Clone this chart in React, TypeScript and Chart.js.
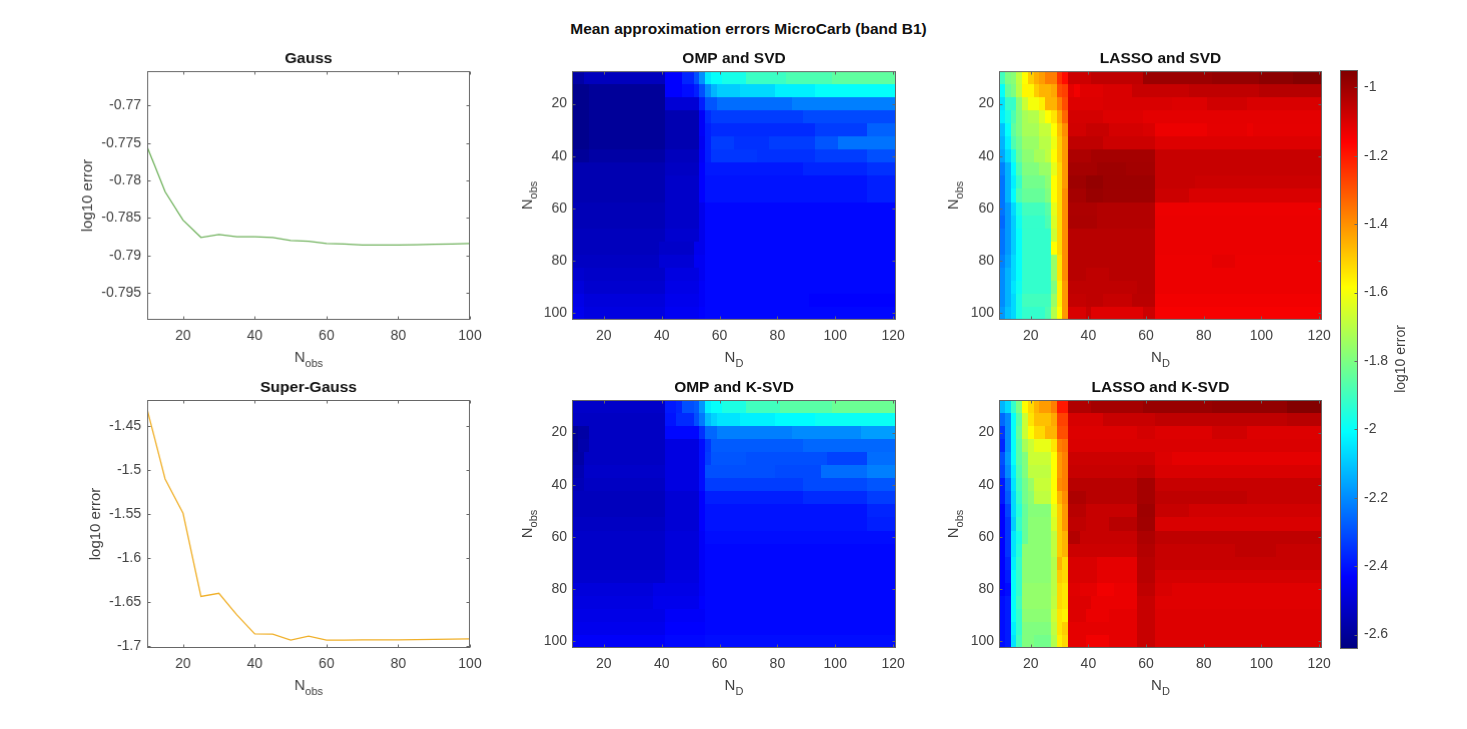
import React, { useEffect, useRef } from "react";
import Chart from "chart.js/auto";

const FONT = '"Liberation Sans", Arial, sans-serif';
const TEXT = "#404040";

const figureTitle = "Mean approximation errors MicroCarb (band B1)";
const colorbarLabel = "log10 error";
const colorMin = -2.642;
const colorMax = -0.949;
const colorTicks = [-2.6, -2.4, -2.2, -2, -1.8, -1.6, -1.4, -1.2, -1];

const lineObs = [10, 15, 20, 25, 30, 35, 40, 45, 50, 55, 60, 65, 70, 75, 80, 85, 90, 95, 100];
const gaussValues = [-0.7755, -0.7815, -0.7853, -0.7876, -0.7872, -0.7875, -0.7875, -0.7876, -0.788, -0.7881, -0.7884, -0.78847, -0.7886, -0.7886, -0.7886, -0.78857, -0.7885, -0.78847, -0.7884];
const superGaussValues = [-1.4315, -1.5103, -1.5492, -1.6434, -1.6397, -1.6642, -1.6857, -1.686, -1.6928, -1.6883, -1.6928, -1.6927, -1.6926, -1.6926, -1.6925, -1.6923, -1.692, -1.6917, -1.6913];

const dictSizes = Array.from({ length: 56 }, (_, i) => 10 + 2 * i);
const obsCounts = lineObs;

// Every row: [end column (exclusive), value, end column, value, ...].
const ompSvd = [
  [2,-2.58,16,-2.54,19,-2.43,21,-2.37,22,-2.3,23,-2.19,24,-2.04,26,-2,30,-1.97,37,-1.91,45,-1.88,56,-1.85],
  [3,-2.62,16,-2.6,19,-2.43,21,-2.41,22,-2.38,23,-2.3,24,-2.2,25,-2.13,29,-2.09,35,-2.07,42,-2.03,56,-2],
  [3,-2.62,16,-2.6,22,-2.5,23,-2.38,25,-2.29,38,-2.25,56,-2.22],
  [3,-2.62,16,-2.6,22,-2.56,23,-2.44,24,-2.36,40,-2.33,56,-2.31],
  [3,-2.62,16,-2.6,22,-2.56,23,-2.44,24,-2.38,42,-2.36,48,-2.33,51,-2.33,56,-2.27],
  [3,-2.62,16,-2.6,22,-2.56,23,-2.45,24,-2.38,28,-2.33,34,-2.35,42,-2.33,46,-2.29,56,-2.24],
  [3,-2.6,16,-2.58,22,-2.54,23,-2.44,24,-2.38,32,-2.34,42,-2.35,51,-2.33,56,-2.3],
  [16,-2.56,22,-2.53,23,-2.43,40,-2.39,51,-2.37,56,-2.35],
  [16,-2.56,22,-2.52,23,-2.43,51,-2.4,56,-2.38],
  [16,-2.56,22,-2.52,23,-2.43,51,-2.4,56,-2.38],
  [16,-2.55,22,-2.52,23,-2.46,56,-2.42],
  [16,-2.55,22,-2.52,23,-2.46,56,-2.42],
  [16,-2.54,22,-2.51,23,-2.46,56,-2.42],
  [15,-2.54,21,-2.52,23,-2.46,56,-2.42],
  [15,-2.53,21,-2.5,23,-2.45,56,-2.42],
  [2,-2.51,16,-2.52,22,-2.48,23,-2.45,56,-2.42],
  [2,-2.49,16,-2.51,22,-2.47,23,-2.44,56,-2.42],
  [2,-2.47,16,-2.49,22,-2.46,23,-2.44,41,-2.42,56,-2.43],
  [2,-2.46,16,-2.48,22,-2.45,23,-2.43,56,-2.42],
];

const ompKsvd = [
  [16,-2.52,18,-2.39,19,-2.37,21,-2.3,22,-2.28,23,-2.18,24,-2.03,26,-2,30,-1.96,36,-1.9,45,-1.86,56,-1.83],
  [16,-2.53,18,-2.4,21,-2.36,22,-2.3,23,-2.23,24,-2.12,25,-2.08,29,-2.05,35,-2.03,42,-2.01,56,-1.99],
  [1,-2.6,3,-2.58,16,-2.53,22,-2.42,23,-2.35,25,-2.26,38,-2.22,50,-2.2,56,-2.17],
  [1,-2.6,3,-2.57,16,-2.53,22,-2.48,23,-2.41,24,-2.34,40,-2.28,56,-2.26],
  [2,-2.58,16,-2.53,22,-2.48,23,-2.41,24,-2.33,30,-2.29,44,-2.3,51,-2.32,56,-2.25],
  [2,-2.56,16,-2.52,22,-2.48,23,-2.41,35,-2.3,43,-2.31,51,-2.25,56,-2.22],
  [2,-2.55,16,-2.53,22,-2.48,23,-2.41,40,-2.33,51,-2.31,56,-2.29],
  [16,-2.54,22,-2.5,23,-2.43,40,-2.38,51,-2.36,56,-2.33],
  [16,-2.54,22,-2.5,23,-2.43,51,-2.4,56,-2.37],
  [16,-2.53,22,-2.5,23,-2.43,51,-2.4,56,-2.38],
  [16,-2.52,22,-2.49,23,-2.44,56,-2.41],
  [16,-2.52,22,-2.49,23,-2.44,56,-2.42],
  [16,-2.52,22,-2.49,23,-2.44,56,-2.42],
  [16,-2.51,22,-2.48,23,-2.44,56,-2.42],
  [14,-2.49,22,-2.47,23,-2.44,56,-2.42],
  [14,-2.48,22,-2.46,23,-2.43,56,-2.42],
  [16,-2.47,23,-2.44,56,-2.42],
  [16,-2.46,23,-2.43,56,-2.42],
  [16,-2.44,23,-2.42,56,-2.41],
];

const lassoSvd = [
  [1,-1.9,2,-1.8,3,-1.78,4,-1.69,5,-1.58,6,-1.5,7,-1.45,8,-1.42,10,-1.37,11,-1.24,12,-1.18,16,-1.076,25,-1.055,37,-0.995,45,-0.985,51,-0.97,56,-0.955],
  [1,-2,2,-1.84,3,-1.8,4,-1.7,6,-1.57,7,-1.5,8,-1.457,9,-1.46,10,-1.436,11,-1.288,12,-1.265,13,-1.118,14,-1.139,18,-1.11,23,-1.097,33,-1.067,45,-1.055,56,-1.04],
  [1,-2.05,3,-1.92,4,-1.78,5,-1.67,7,-1.6,8,-1.56,10,-1.457,11,-1.372,12,-1.288,18,-1.105,30,-1.097,36,-1.105,43,-1.083,56,-1.097],
  [1,-2.03,2,-1.965,3,-1.88,4,-1.795,5,-1.73,7,-1.71,8,-1.646,9,-1.584,10,-1.54,11,-1.436,12,-1.33,18,-1.089,25,-1.105,56,-1.115],
  [1,-2.11,2,-2,3,-1.85,4,-1.795,7,-1.73,9,-1.68,10,-1.584,11,-1.48,12,-1.394,15,-1.085,19,-1.067,25,-1.09,27,-1.097,36,-1.13,43,-1.118,44,-1.127,56,-1.118],
  [1,-2.134,2,-2.03,3,-1.88,4,-1.82,7,-1.753,9,-1.7,10,-1.61,11,-1.5,12,-1.415,18,-1.055,27,-1.076,56,-1.105],
  [1,-2.156,2,-2.07,3,-1.965,4,-1.838,6,-1.775,8,-1.73,9,-1.69,10,-1.584,11,-1.5,12,-1.415,16,-1.025,27,-1.012,56,-1.067],
  [1,-2.218,2,-2.134,3,-2.01,4,-1.88,7,-1.795,9,-1.753,10,-1.626,11,-1.52,12,-1.415,17,-1.012,22,-1,27,-1.008,56,-1.067],
  [1,-2.24,2,-2.134,3,-2.03,4,-1.92,8,-1.817,9,-1.775,10,-1.584,11,-1.52,12,-1.415,15,-1,18,-0.983,27,-0.998,34,-1.067,56,-1.076],
  [1,-2.24,2,-2.134,3,-2.01,4,-1.88,8,-1.838,9,-1.795,10,-1.584,11,-1.52,12,-1.394,15,-1.012,18,-0.991,27,-1,33,-1.076,56,-1.097],
  [1,-2.24,2,-2.176,3,-2.07,4,-1.965,8,-1.9,9,-1.86,10,-1.626,11,-1.52,12,-1.394,17,-1.025,27,-1.034,56,-1.131],
  [1,-2.26,2,-2.176,3,-2.09,4,-1.985,8,-1.92,9,-1.88,10,-1.646,11,-1.52,12,-1.394,17,-1.022,27,-1.034,56,-1.127],
  [1,-2.24,2,-2.176,3,-2.09,4,-2,9,-1.922,10,-1.669,11,-1.52,12,-1.394,27,-1.042,56,-1.127],
  [1,-2.24,2,-2.176,3,-2.09,4,-2,9,-1.922,10,-1.584,11,-1.52,12,-1.394,27,-1.042,56,-1.127],
  [1,-2.218,2,-2.156,3,-2.07,4,-2,9,-1.922,10,-1.753,11,-1.54,12,-1.394,27,-1.042,37,-1.131,41,-1.118,56,-1.131],
  [1,-2.2,2,-2.134,3,-2.07,4,-2,9,-1.922,10,-1.753,11,-1.54,12,-1.394,15,-1.042,19,-1.055,27,-1.042,56,-1.131],
  [1,-2.2,2,-2.134,3,-2.05,4,-1.985,9,-1.922,10,-1.795,11,-1.563,12,-1.415,24,-1.055,27,-1.042,56,-1.131],
  [1,-2.2,2,-2.134,3,-2.07,4,-1.965,9,-1.9,10,-1.753,11,-1.563,12,-1.415,15,-1.063,18,-1.055,23,-1.067,27,-1.046,56,-1.139],
  [1,-2.176,2,-2.11,3,-2.07,4,-1.965,8,-1.922,9,-1.88,10,-1.711,11,-1.584,12,-1.415,15,-1.097,16,-1.067,25,-1.11,27,-1.076,56,-1.148],
];

const lassoKsvd = [
  [1,-2.13,2,-2.07,3,-1.92,4,-1.8,5,-1.58,6,-1.52,7,-1.46,9,-1.42,10,-1.37,12,-1.2,16,-1.03,25,-1.01,37,-0.99,50,-0.98,56,-0.955],
  [1,-2.26,2,-2.2,3,-2,4,-1.86,5,-1.67,6,-1.54,9,-1.48,10,-1.44,12,-1.27,18,-1.095,27,-1.07,50,-1.055,56,-1.042],
  [1,-2.34,2,-2.2,3,-2,4,-1.84,5,-1.67,6,-1.58,8,-1.52,10,-1.46,12,-1.29,24,-1.105,27,-1.089,37,-1.105,43,-1.083,56,-1.105],
  [1,-2.37,2,-2.2,3,-2,4,-1.86,5,-1.73,6,-1.67,9,-1.62,10,-1.54,11,-1.372,12,-1.35,56,-1.1],
  [1,-2.3,2,-2.176,3,-2,4,-1.86,5,-1.795,9,-1.67,10,-1.584,11,-1.415,12,-1.372,27,-1.076,30,-1.105,56,-1.118],
  [1,-2.32,2,-2.2,3,-2.03,4,-1.88,5,-1.795,9,-1.69,10,-1.584,11,-1.415,12,-1.372,24,-1.067,27,-1.055,56,-1.097],
  [1,-2.39,2,-2.26,3,-2.05,4,-1.9,5,-1.817,6,-1.753,9,-1.675,10,-1.584,11,-1.394,12,-1.372,24,-1.042,27,-1.012,56,-1.067],
  [1,-2.39,2,-2.28,3,-2.07,4,-1.92,5,-1.817,6,-1.775,9,-1.69,10,-1.584,11,-1.457,12,-1.394,15,-1.025,24,-1.042,27,-1.012,43,-1.055,56,-1.067],
  [1,-2.43,2,-2.32,3,-2.07,4,-1.945,5,-1.838,9,-1.785,10,-1.626,11,-1.5,12,-1.415,15,-1.042,24,-1.067,27,-1,33,-1.067,56,-1.085],
  [1,-2.43,2,-2.345,3,-2.09,4,-1.922,5,-1.838,9,-1.775,10,-1.646,11,-1.5,12,-1.415,15,-1.055,19,-1.067,24,-1.042,27,-1.004,56,-1.097],
  [1,-2.43,2,-2.345,3,-2.05,4,-1.965,5,-1.838,9,-1.775,10,-1.69,11,-1.5,12,-1.457,14,-1.034,24,-1.067,27,-1.025,56,-1.055],
  [1,-2.43,2,-2.345,3,-2.05,4,-1.945,9,-1.775,10,-1.69,11,-1.5,12,-1.457,24,-1.076,27,-1.034,41,-1.067,48,-1.055,56,-1.067],
  [1,-2.43,2,-2.37,3,-2.03,4,-1.922,9,-1.775,10,-1.711,11,-1.457,12,-1.52,17,-1.097,24,-1.118,27,-1.042,56,-1.067],
  [1,-2.43,2,-2.388,3,-2,4,-1.922,9,-1.775,10,-1.7,11,-1.5,12,-1.52,17,-1.097,24,-1.118,27,-1.042,56,-1.089],
  [1,-2.43,2,-2.41,3,-2,4,-1.922,9,-1.762,10,-1.7,11,-1.52,12,-1.542,14,-1.11,17,-1.118,20,-1.139,24,-1.127,27,-1.055,30,-1.097,56,-1.11],
  [1,-2.41,2,-2.388,3,-2,4,-1.9,9,-1.762,10,-1.69,11,-1.52,12,-1.542,16,-1.105,24,-1.127,27,-1.067,56,-1.11],
  [1,-2.41,2,-2.388,3,-2,4,-1.922,9,-1.775,10,-1.669,11,-1.542,12,-1.563,15,-1.105,19,-1.127,24,-1.118,27,-1.067,56,-1.105],
  [1,-2.41,2,-2.388,3,-2.03,4,-1.922,9,-1.795,10,-1.69,11,-1.542,12,-1.5,19,-1.118,24,-1.118,27,-1.067,56,-1.105],
  [1,-2.41,2,-2.388,3,-2.05,4,-1.9,6,-1.795,9,-1.817,10,-1.711,11,-1.563,12,-1.52,15,-1.118,19,-1.139,24,-1.118,27,-1.067,56,-1.105],
];

function jet(t: number): string {
  const c = (v: number) => Math.round(255 * Math.max(0, Math.min(1, v)));
  return `rgb(${c(Math.min(4 * t - 1.5, -4 * t + 4.5))},${c(Math.min(4 * t - 0.5, -4 * t + 3.5))},${c(Math.min(4 * t + 0.5, -4 * t + 2.5))})`;
}
const colorOf = (v: number) => jet((v - colorMin) / (colorMax - colorMin));

function cells(rows: number[][]) {
  const out: { x: number; y: number; v: number }[] = [];
  rows.forEach((runs, r) => {
    let col = 0;
    for (let i = 0; i < runs.length; i += 2) {
      for (; col < runs[i]; col++) out.push({ x: dictSizes[col], y: obsCounts[r], v: runs[i + 1] });
    }
  });
  return out;
}

const heatmapPlugin = {
  id: "heatmapCells",
  beforeDatasetsDraw(chart: any) {
    const { ctx, scales } = chart;
    const { x, y } = scales;
    ctx.save();
    for (const p of chart.data.datasets[0].data) {
      const x0 = Math.round(x.getPixelForValue(p.x - 1));
      const x1 = Math.round(x.getPixelForValue(p.x + 1));
      const y0 = Math.round(y.getPixelForValue(p.y - 2.5));
      const y1 = Math.round(y.getPixelForValue(p.y + 2.5));
      ctx.fillStyle = colorOf(p.v);
      ctx.fillRect(x0, y0, x1 - x0, y1 - y0);
    }
    ctx.restore();
  },
};

const colorbarPlugin = {
  id: "colorbarRamp",
  beforeDatasetsDraw(chart: any) {
    const { ctx, chartArea, scales } = chart;
    const y = scales.y;
    ctx.save();
    for (let p = Math.floor(chartArea.top); p < chartArea.bottom; p++) {
      ctx.fillStyle = colorOf(y.getValueForPixel(p + 0.5));
      ctx.fillRect(chartArea.left, p, chartArea.right - chartArea.left, 1);
    }
    ctx.restore();
  },
};

function labelText(ctx: any, main: string, sub: string, cx: number, cy: number, rotate: boolean) {
  ctx.save();
  ctx.translate(cx, cy);
  if (rotate) ctx.rotate(-Math.PI / 2);
  ctx.fillStyle = TEXT;
  ctx.textBaseline = "alphabetic";
  ctx.textAlign = "left";
  ctx.font = `15px ${FONT}`;
  const w1 = ctx.measureText(main).width;
  ctx.font = `11px ${FONT}`;
  const w2 = sub ? ctx.measureText(sub).width : 0;
  const x0 = -(w1 + w2) / 2;
  ctx.font = `15px ${FONT}`;
  ctx.fillText(main, x0, 5);
  if (sub) {
    ctx.font = `11px ${FONT}`;
    ctx.fillText(sub, x0 + w1, 10);
  }
  ctx.restore();
}

const framePlugin = {
  id: "matlabFrame",
  afterDraw(chart: any, _args: any, opts: any) {
    const { ctx, chartArea: a, scales } = chart;
    const l = Math.round(a.left) + 0.5;
    const r = Math.round(a.right) - 0.5;
    const t = Math.round(a.top) + 0.5;
    const b = Math.round(a.bottom) - 0.5;
    ctx.save();
    ctx.strokeStyle = "#666666";
    ctx.lineWidth = 1;
    ctx.strokeRect(l, t, r - l, b - t);
    ctx.beginPath();
    if (opts.colorbar) {
      for (const k of scales.y.ticks) {
        const p = Math.round(scales.y.getPixelForValue(k.value)) + 0.5;
        ctx.moveTo(r, p);
        ctx.lineTo(r - 3, p);
      }
    } else {
      for (const k of scales.x.ticks) {
        const p = Math.round(scales.x.getPixelForValue(k.value)) + 0.5;
        ctx.moveTo(p, b);
        ctx.lineTo(p, b - 3);
        ctx.moveTo(p, t);
        ctx.lineTo(p, t + 3);
      }
      for (const k of scales.y.ticks) {
        const p = Math.round(scales.y.getPixelForValue(k.value)) + 0.5;
        ctx.moveTo(l, p);
        ctx.lineTo(l + 3, p);
        ctx.moveTo(r, p);
        ctx.lineTo(r - 3, p);
      }
    }
    ctx.stroke();
    ctx.restore();
    if (opts.xMain) labelText(ctx, opts.xMain, opts.xSub, (a.left + a.right) / 2, a.bottom + 37, false);
    if (opts.yMain) labelText(ctx, opts.yMain, opts.ySub, a.left - opts.yGap, (a.top + a.bottom) / 2, true);
  },
};

const M = { l: 75, r: 34, t: 26, b: 55 };

function axisBase(min: number, max: number, values: number[], size: number, sizeProp: "width" | "height", reverse: boolean, padding: number) {
  return {
    type: "linear",
    min,
    max,
    reverse,
    grid: { display: false, drawTicks: false },
    border: { display: false },
    ticks: { autoSkip: false, maxRotation: 0, padding, color: TEXT, font: { family: FONT, size: 14 }, callback: (v: number) => String(v) },
    afterBuildTicks: (s: any) => { s.ticks = values.map((value) => ({ value })); },
    afterFit: (s: any) => {
      s[sizeProp] = size;
      s.paddingLeft = 0; s.paddingRight = 0; s.paddingTop = 0; s.paddingBottom = 0;
    },
  };
}

type Panel = {
  kind: "line" | "heat";
  title: string;
  box: [number, number, number, number];
  xMin: number; xMax: number; xTicks: number[];
  yMin: number; yMax: number; yTicks: number[];
  yMain: string; ySub: string; yGap: number;
  xSub: string;
  color?: string; values?: number[]; rows?: number[][];
};

const heatX = { xMin: 9, xMax: 121, xTicks: [20, 40, 60, 80, 100, 120] };
const heatY = { yMin: 7.5, yMax: 102.5, yTicks: [20, 40, 60, 80, 100], yMain: "N", ySub: "obs", yGap: 45, xSub: "D" };
const lineX = { xMin: 10, xMax: 100, xTicks: [20, 40, 60, 80, 100], yMain: "log10 error", ySub: "", xSub: "obs" };

const panels: Panel[] = [
  { kind: "line", title: "Gauss", box: [147, 71, 469.5, 319.5], ...lineX, yMin: -0.7986, yMax: -0.76541, yTicks: [-0.795, -0.79, -0.785, -0.78, -0.775, -0.77], yGap: 60, color: "#72b35f", values: gaussValues },
  { kind: "heat", title: "OMP and SVD", box: [572, 71, 896, 319.5], ...heatX, ...heatY, rows: ompSvd },
  { kind: "heat", title: "LASSO and SVD", box: [999, 71, 1322, 319.5], ...heatX, ...heatY, yGap: 46, rows: lassoSvd },
  { kind: "line", title: "Super-Gauss", box: [147, 400, 469.5, 648], ...lineX, yMin: -1.7017, yMax: -1.4209, yTicks: [-1.7, -1.65, -1.6, -1.55, -1.5, -1.45], yGap: 52, color: "#f0b02a", values: superGaussValues },
  { kind: "heat", title: "OMP and K-SVD", box: [572, 400, 896, 648], ...heatX, ...heatY, rows: ompKsvd },
  { kind: "heat", title: "LASSO and K-SVD", box: [999, 400, 1322, 648], ...heatX, ...heatY, yGap: 46, rows: lassoKsvd },
];

function PanelChart({ p }: { p: Panel }) {
  const ref = useRef<HTMLCanvasElement>(null);
  const [x0, y0, x1, y1] = p.box;
  const W = x1 - x0 + M.l + M.r;
  const H = y1 - y0 + M.t + M.b;
  useEffect(() => {
    const isHeat = p.kind === "heat";
    const chart = new Chart(ref.current as HTMLCanvasElement, {
      type: isHeat ? "scatter" : "line",
      data: {
        datasets: [
          isHeat
            ? { label: p.title, data: cells(p.rows as number[][]), pointRadius: 0, showLine: false }
            : { label: p.title, data: lineObs.map((x, i) => ({ x, y: (p.values as number[])[i] })), borderColor: p.color, borderWidth: 1.3, pointRadius: 0, tension: 0 },
        ],
      } as any,
      options: {
        animation: false,
        responsive: false,
        events: [],
        layout: { padding: { right: M.r } },
        scales: {
          x: axisBase(p.xMin, p.xMax, p.xTicks, M.b, "height", false, 8),
          y: axisBase(p.yMin, p.yMax, p.yTicks, M.l, "width", isHeat, isHeat ? 5 : 6),
        },
        plugins: {
          legend: { display: false },
          tooltip: { enabled: false },
          title: {
            display: true,
            fullSize: false,
            text: p.title,
            color: "#111111",
            font: { family: FONT, size: 15.5, weight: "bold", lineHeight: 1.2 },
            padding: { top: 4.3, bottom: 3.1 },
          },
          matlabFrame: { xMain: "N", xSub: p.xSub, yMain: p.yMain, ySub: p.ySub, yGap: p.yGap },
        },
      } as any,
      plugins: isHeat ? [heatmapPlugin, framePlugin] : [framePlugin],
    });
    return () => chart.destroy();
  }, []);
  return <canvas ref={ref} width={W} height={H} style={{ position: "absolute", left: x0 - M.l, top: y0 - M.t, width: W, height: H }} />;
}

function Colorbar() {
  const ref = useRef<HTMLCanvasElement>(null);
  const box = [1340, 70, 1358, 649];
  const L = 6;
  const R = 70;
  const W = box[2] - box[0] + L + R;
  const H = box[3] - box[1] + 12;
  useEffect(() => {
    const chart = new Chart(ref.current as HTMLCanvasElement, {
      type: "scatter",
      data: { datasets: [{ label: colorbarLabel, data: colorTicks.map((y) => ({ x: 0, y })), pointRadius: 0, showLine: false }] },
      options: {
        animation: false,
        responsive: false,
        events: [],
        layout: { padding: { left: L, top: 6, bottom: 6 } },
        scales: {
          x: { display: false, min: -1, max: 1 },
          y: { ...axisBase(colorMin, colorMax, colorTicks, R, "width", false, 6), position: "right" },
        },
        plugins: { legend: { display: false }, tooltip: { enabled: false }, matlabFrame: { colorbar: true } },
      } as any,
      plugins: [colorbarPlugin, framePlugin, {
        id: "colorbarLabel",
        afterDraw(c: any) {
          const { ctx, chartArea: a } = c;
          ctx.save();
          ctx.translate(a.right + 43, 359 - box[1] + 6);
          ctx.rotate(-Math.PI / 2);
          ctx.fillStyle = TEXT;
          ctx.font = `14px ${FONT}`;
          ctx.textAlign = "center";
          ctx.textBaseline = "middle";
          ctx.fillText(colorbarLabel, 0, 0);
          ctx.restore();
        },
      }],
    });
    return () => chart.destroy();
  }, []);
  return <canvas ref={ref} width={W} height={H} style={{ position: "absolute", left: box[0] - L, top: box[1] - 6, width: W, height: H }} />;
}

export default function App() {
  return (
    <div style={{ position: "fixed", inset: 0, background: "#ffffff", overflow: "hidden" }}>
      <div style={{ position: "absolute", left: 0, width: 1497, top: 20, textAlign: "center", fontFamily: FONT, fontWeight: "bold", fontSize: 15.5, lineHeight: "18px", color: "#111111" }}>
        {figureTitle}
      </div>
      {panels.map((p) => <PanelChart key={p.title} p={p} />)}
      <Colorbar />
    </div>
  );
}
